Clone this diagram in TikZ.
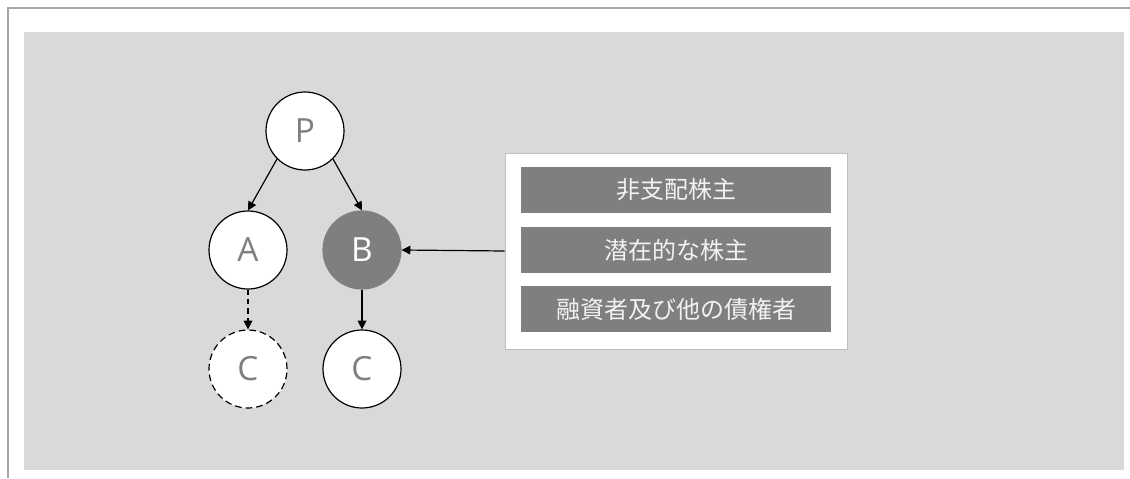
\documentclass[tikz,border=0pt]{standalone}
\usepackage{fontspec}
\setmainfont{Open Sans}
\newfontfamily\cjk{Noto Sans CJK JP}
\usetikzlibrary{arrows.meta}
\definecolor{bggray}{HTML}{D9D9D9}
\definecolor{midgray}{HTML}{7F7F7F}
\definecolor{framegray}{HTML}{A6A6A6}
\definecolor{boxline}{HTML}{BFBFBF}
\definecolor{bartext}{HTML}{F2F2F2}
\tikzset{
  ent/.style={circle, draw=black, line width=0.9pt, fill=white, minimum size=58.5pt, inner sep=0pt, text=midgray, font=\fontsize{25}{30}\selectfont},
  entdash/.style={ent, dashed, dash pattern=on 5pt off 3pt},
  entdark/.style={ent, draw=midgray, fill=midgray, text=white},
  bar/.style={rectangle, fill=midgray, minimum width=232.5pt, minimum height=34.5pt, inner sep=0pt, text=bartext, font=\cjk\fontsize{18}{22}\selectfont},
  holder/.style={rectangle, draw=boxline, line width=0.6pt, fill=white, minimum width=256.5pt, minimum height=147pt, inner sep=0pt},
  link/.style={-{Triangle[length=6.5pt,width=6.5pt]}, line width=0.9pt, black},
}
\begin{document}
\begin{tikzpicture}[x=0.75pt,y=-0.75pt]
\useasboundingbox (0,0) rectangle (1130,478);
\fill[white] (0,0) rectangle (1130,478);
\draw[framegray, line width=1.2pt] (8,478) -- (8,8) -- (1130,8);
\fill[bggray] (24,32) rectangle (1124,470);
\node[ent] (P) at (305,131) {P};
\node[ent] (A) at (248,250) {A};
\node[entdark] (B) at (362,250) {B};
\node[entdash] (C1) at (248,369) {C};
\node[ent] (C2) at (362,369) {C};
\node[holder] (H) at (676,251) {};
\node[bar] (b1) at (676,190) {非支配株主};
\node[bar] (b2) at (676,250) {潜在的な株主};
\node[bar] (b3) at (676,309) {融資者及び他の債権者};
\draw[link] (P.south west) -- (A.north);
\draw[link] (P.south east) -- (B.north);
\draw[link, dashed, dash pattern=on 4pt off 3pt] (A.south) -- (C1.north);
\draw[link] (B.south) -- (C2.north);
\draw[link] (H.west) -- (B.east);
\end{tikzpicture}
\end{document}
